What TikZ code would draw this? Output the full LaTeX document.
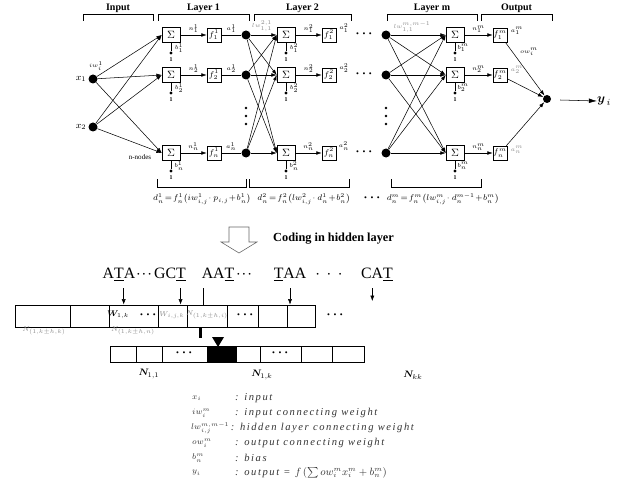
\documentclass[tikz,border=0pt]{standalone}
\usepackage{amsmath}
\usepackage{fontspec}
\setmainfont{Liberation Serif}
\newfontfamily\legfont[LetterSpace=15]{Liberation Serif}
\usetikzlibrary{arrows.meta,positioning,calc}
\definecolor{netGrey}{HTML}{8A8A8A}
\definecolor{legInk}{HTML}{333333}
\tikzset{
  wire/.style={-{Latex[length=1.6mm,width=1.1mm]}, line width=0.45pt},
  pin/.style={-{Latex[length=1.6mm,width=1.2mm]}, line width=0.4pt},
  brk/.style={line width=0.6pt},
  hdr/.style={font=\fontsize{8.5}{9}\selectfont\bfseries, inner sep=1pt},
  sumbox/.style={draw, line width=0.5pt, fill=white, minimum width=0.54cm, minimum height=0.45cm, inner sep=0pt, font=\small},
  fnbox/.style={draw, line width=0.5pt, minimum size=0.42cm, inner sep=0pt, font=\fontsize{7}{7}\selectfont},
  neuron/.style={circle, fill, inner sep=0pt, minimum size=0.27cm},
  bdot/.style={circle, fill, inner sep=0pt, minimum size=0.1cm},
  lbl/.style={font=\fontsize{5}{5}\selectfont, inner sep=0.5pt},
  ell/.style={font=\fontsize{7}{7}\selectfont, inner sep=0pt},
  eqn/.style={font=\fontsize{6.8}{7}\selectfont, inner sep=0pt},
  codon/.style={font=\fontsize{13.5}{14}\selectfont, inner sep=0pt, anchor=base},
  bar/.style={draw, line width=0.8pt, inner sep=0pt},
  cell/.style={line width=0.5pt},
  barlbl/.style={font=\fontsize{7}{7}\selectfont, inner sep=0pt},
  leg/.style={font=\legfont\itshape\fontsize{9}{9}\selectfont, text=legInk, anchor=west, inner sep=0pt},
  legsym/.style={font=\fontsize{7.5}{8}\selectfont, text=legInk, anchor=west, inner sep=0pt}
}
\begin{document}
\begin{tikzpicture}[x=0.03cm,y=-0.03cm]
  \useasboundingbox (0,0) rectangle (618,482);
  % brackets over the layers
  \foreach \a/\b/\t [count=\i] in {83/153/Input,158/249/Layer 1,254/351/Layer 2,387/477/Layer m,481/552/Output}{
    \draw[brk] (\a,21) -- (\a,14) -- (\b,14) -- (\b,21);
    \node[hdr] (hdr\i) at ({(\a+\b)/2},8) {\t};
  }
  % inputs
  \node[neuron] (x1) at (93,79) {};
  \node[neuron] (x2) at (93,127) {};
  \node[lbl, font=\fontsize{8}{8}\selectfont, left=1pt of x1] (x1lab) {$x_1$};
  \node[lbl, font=\fontsize{8}{8}\selectfont, left=1pt of x2] (x2lab) {$x_2$};
  \node[lbl] (iwlab) at (96,66) {$iw^1_i$};
  % layer 1
  \foreach \r/\y in {1/35,2/75,n/153}{
    \node[sumbox] (sa\r) at (171,\y) {$\Sigma$};
    \node[fnbox] (fa\r) at (214,\y) {$f^1_\r$};
    \node[neuron] (da\r) at (246,\y) {};
    \node[bdot] (ba\r) at (171,\y+18) {};
    \node[lbl] (ona\r) at (171,\y+25) {\bfseries 1};
    \node[lbl] (bla\r) at (179,\y+13) {$b^1_\r$};
    \draw[line width=0.4pt] (sa\r) -- (ba\r);
    \draw[wire] (sa\r) -- node[lbl, above=1pt] {$n^1_\r$} (fa\r);
    \draw[line width=0.45pt] (fa\r) -- node[lbl, above=1pt] {$a^1_\r$} (da\r);
  }
  \node[lbl, font=\fontsize{6}{6}\selectfont] (nnodes) at (140,157) {n-nodes};
  % layer 2
  \foreach \r/\y in {1/35,2/75,n/153}{
    \node[sumbox] (sb\r) at (286,\y) {$\Sigma$};
    \node[fnbox] (fb\r) at (329,\y) {$f^2_\r$};
    \node[bdot] (bb\r) at (286,\y+18) {};
    \node[lbl] (onb\r) at (286,\y+25) {\bfseries 1};
    \node[lbl] (blb\r) at (294,\y+13) {$b^2_\r$};
    \node[ell] (hd\r) at (364,\y) {\textbullet\hspace{3pt}\textbullet\hspace{3pt}\textbullet};
    \draw[line width=0.4pt] (sb\r) -- (bb\r);
    \draw[wire] (sb\r) -- node[lbl, above=1pt] {$n^2_\r$} (fb\r);
    \node[lbl] (alb\r) at (344,\y-7) {$a^2_\r$};
  }
  \node[lbl, text=netGrey] (lwb) at (262,26) {$lw^{2,1}_{1,1}$};
  % layer m
  \foreach \r/\y in {1/35,2/75,n/153}{
    \node[neuron] (dm\r) at (386,\y) {};
    \node[sumbox] (sm\r) at (455,\y) {$\Sigma$};
    \node[fnbox] (fm\r) at (500,\y) {$f^m_\r$};
    \node[bdot] (bm\r) at (455,\y+18) {};
    \node[lbl] (onm\r) at (455,\y+25) {\bfseries 1};
    \node[lbl] (blm\r) at (463,\y+13) {$b^m_\r$};
    \draw[line width=0.4pt] (sm\r) -- (bm\r);
    \draw[wire] (sm\r) -- node[lbl, above=1pt] {$n^m_\r$} (fm\r);
  }
  \node[lbl, text=netGrey] (lwm) at (412,27) {$lw^{m,m-1}_{1,1}$};
  \node[lbl] (amo1) at (517,31) {$a^m_1$};
  \node[lbl, text=netGrey] (amo2) at (517,70) {$a^m_2$};
  \node[lbl, text=netGrey] (amon) at (517,150) {$a^m_n$};
  % vertical dots
  \foreach \c in {246,386}
    \foreach \yy in {108,116,124}
      \fill (\c,\yy) circle (1.3);
  % connections
  \foreach \i in {1,2}
    \foreach \r in {1,2,n}
      \draw[wire] (x\i) -- (sa\r.west);
  \foreach \p in {1,2,n}
    \foreach \r in {1,2,n}{
      \draw[wire] (da\p) -- (sb\r.west);
      \draw[wire] (dm\p) -- (sm\r.west);
    }
  % output
  \node[neuron, minimum size=0.24cm] (out) at (547,99) {};
  \foreach \r in {1,2,n}
    \draw[wire] (fm\r) -- (out);
  \node[lbl] (owlab) at (529,52) {$ow^m_i$};
  \node[inner sep=0pt, font=\fontsize{11}{11}\selectfont] (ylab) at (604,101) {$\boldsymbol{y}_{\,i}$};
  \coordinate (yarr) at (560,100);
  \draw[wire, -{Latex[length=2.4mm,width=1.4mm]}] (yarr) -- (ylab.west);
  % brackets under the layers and their equations
  \foreach \a/\b in {157/246,249/349,391/481}
    \draw[brk] (\a,179) -- (\a,187) -- (\b,187) -- (\b,179);
  \node[eqn] (eqa) at (202,199) {$d^1_n\!=\!f^1_n\big(iw^{1}_{i,j}\!\cdot p_{i,j}\!+\!b^1_n\big)$};
  \node[eqn] (eqb) at (304,199) {$d^2_n\!=\!f^2_n\big(lw^{2}_{i,j}\!\cdot d^1_n\!+\!b^2_n\big)$};
  \node[ell] (eqdots) at (372,199) {\textbullet\hspace{3pt}\textbullet\hspace{3pt}\textbullet};
  \node[eqn] (eqm) at (443,199) {$d^m_n\!=\!f^m_n\big(lw^{m}_{i,j}\!\cdot d^{m-1}_n\!+\!b^m_n\big)$};
  % hollow arrow
  \draw[line width=0.5pt, draw=black!60, fill=white] (229,227) -- (249,227) -- (249,242) -- (257,242) -- (239,253) -- (221,242) -- (229,242) -- cycle;
  \node[font=\fontsize{10.5}{11}\selectfont\bfseries, anchor=west, inner sep=0pt] (coding) at (273,239) {Coding in hidden layer};
  % codons
  \node[codon] (c1) at (119,278) {A\underline{T}A};
  \node[codon] (k1) at (144,278) {$\cdot\!\cdot\!\cdot$};
  \node[codon] (c2) at (170,278) {GC\underline{T}};
  \node[codon] (c3) at (218,278) {AA\underline{T}};
  \node[codon] (k2) at (244,278) {$\cdot\!\cdot\!\cdot$};
  \node[codon] (c4) at (290,278) {\underline{T}AA};
  \node[codon] (k3) at (329,278) {$\cdot\,\cdot\,\cdot$};
  \node[codon] (c5) at (377,278) {CA\underline{T}};
  % upper bar
  \node[bar, minimum width=9cm, minimum height=0.66cm] (upbar) at (165,316) {};
  \foreach \x in {70,109,158,187,227,258,287}
    \draw[cell] (\x,305) -- (\x,327);
  \draw[pin] ([xshift=4]c1.base) ++(0,10) coordinate (p1) -- (p1 |- upbar.north);
  \draw[pin] ([xshift=9]c2.base) ++(0,10) coordinate (p2) -- (p2 |- upbar.north);
  \draw[line width=0.4pt] ([xshift=-13]c3.base) ++(0,10) coordinate (p3) -- (p3 |- upbar.north);
  \draw[pin] (c4.base) ++(0,10) coordinate (p4) -- (p4 |- upbar.north);
  \draw[pin] ([xshift=-4]c5.base) ++(0,10) coordinate (p5) -- ++(0,13);
  \node[barlbl] (w1k) at (118,315) {$\boldsymbol{W}_{\!1,k}$};
  \node[ell] (bd1) at (148,316) {\textbullet\hspace{3pt}\textbullet\hspace{3pt}\textbullet};
  \node[barlbl, font=\fontsize{6}{6}\selectfont, text=netGrey] (wijk) at (172,315) {$W_{i,j,k}$};
  \node[barlbl, font=\fontsize{6}{6}\selectfont, text=netGrey] (nmid) at (207,315) {$N_{(1,k\pm h,i)}$};
  \node[ell] (bd2) at (245,316) {\textbullet\hspace{3pt}\textbullet\hspace{3pt}\textbullet};
  \node[ell] (bd3) at (335,316) {\textbullet\hspace{3pt}\textbullet\hspace{3pt}\textbullet};
  \node[barlbl, font=\fontsize{6}{6}\selectfont, text=netGrey] (nlk) at (44,331) {$N_{(1,k\pm h,k)}$};
  \node[barlbl, font=\fontsize{6}{6}\selectfont, text=netGrey] (nln) at (133,331) {$N_{(1,k\pm h,n)}$};
  % link to lower bar
  \fill (199,328) rectangle (202,338);
  \fill (212,337) -- (224,337) -- (218,347) -- cycle;
  % lower bar
  \node[bar, line width=0.6pt, minimum width=7.62cm, minimum height=0.48cm] (lowbar) at (237,354) {};
  \fill (207,346) rectangle (237,362);
  \foreach \x in {136,162,260,301,332}
    \draw[cell] (\x,346) -- (\x,362);
  \node[ell] (bd4) at (184,354) {\textbullet\hspace{3pt}\textbullet\hspace{3pt}\textbullet};
  \node[ell] (bd5) at (280,354) {\textbullet\hspace{3pt}\textbullet\hspace{3pt}\textbullet};
  \node[barlbl, font=\fontsize{8}{8}\selectfont] (n11) at (149,374) {$\boldsymbol{N}_{\!1,1}$};
  \node[barlbl, font=\fontsize{8}{8}\selectfont] (n1k) at (262,375) {$\boldsymbol{N}_{\!1,k}$};
  \node[barlbl, font=\fontsize{8}{8}\selectfont] (nkk) at (413,375) {$\boldsymbol{N}_{\!kk}$};
  % legend
  \node[legsym] (lx) at (192,398) {$x_i$};
  \node[leg] (lxt) at (235,398) {: input};
  \node[legsym] (liw) at (192,413) {$iw^m_i$};
  \node[leg] (liwt) at (235,413) {: input connecting weight};
  \node[legsym] (llw) at (191,428) {$lw^{m,m-1}_{i,j}$};
  \node[leg, right=1pt of llw] (llwt) {: hidden layer connecting weight};
  \node[legsym] (low) at (192,443) {$ow^m_i$};
  \node[leg] (lowt) at (235,443) {: output connecting weight};
  \node[legsym] (lb) at (192,458) {$b^m_n$};
  \node[leg] (lbt) at (235,458) {: bias};
  \node[legsym] (ly) at (192,473) {$y_i$};
  \node[leg] (lyt) at (235,473) {: output = $f\,(\sum ow^m_i x^m_i + b^m_n)$};
\end{tikzpicture}
\end{document}
